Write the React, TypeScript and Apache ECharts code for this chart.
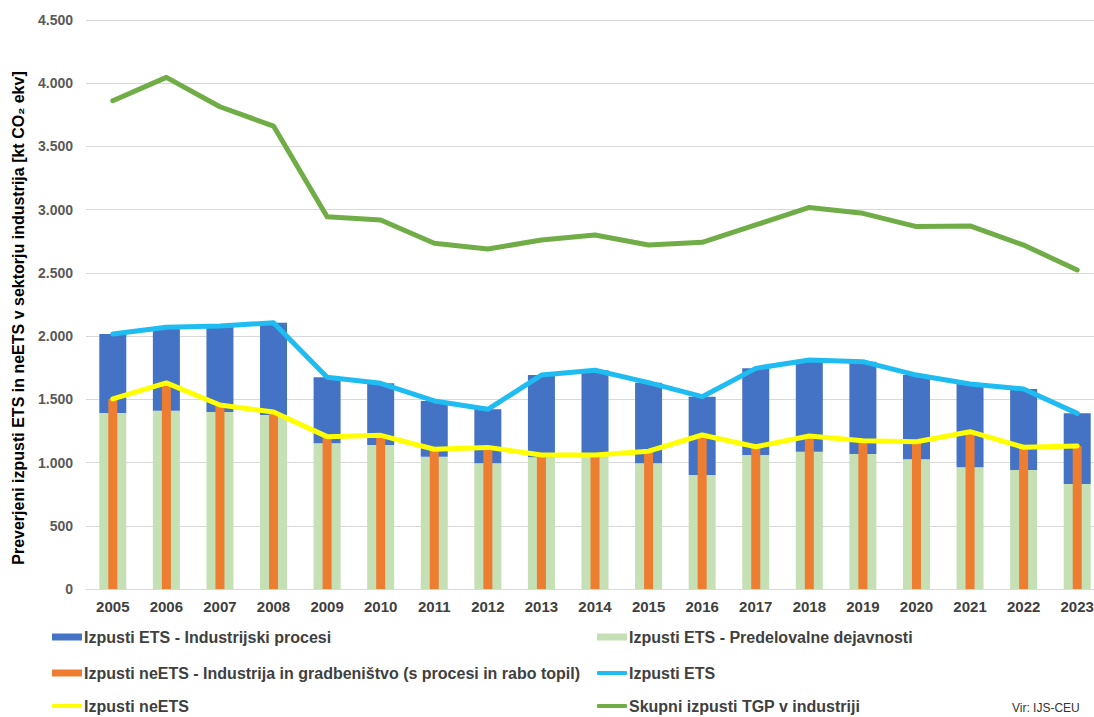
import React, { useEffect, useRef } from "react";
import * as echarts from "echarts";

// Years on the category axis
const years = [
  "2005", "2006", "2007", "2008", "2009", "2010", "2011", "2012", "2013", "2014",
  "2015", "2016", "2017", "2018", "2019", "2020", "2021", "2022", "2023",
];

// ETS – manufacturing industries (lower part of the stacked bar), kt CO2 eq
const etsPredelovalne = [
  1392, 1410, 1400, 1376, 1152, 1139, 1046, 994, 1041, 1060,
  994, 902, 1060, 1086, 1068, 1026, 962, 941, 830,
];

// ETS – industrial processes (upper part of the stacked bar)
const etsProcesi = [
  625, 660, 680, 730, 522, 488, 441, 427, 651, 670,
  638, 619, 685, 725, 730, 666, 659, 641, 559,
];

// Non-ETS – industry and construction (narrow bar)
const neEtsIndustrija = [
  1503, 1630, 1455, 1400, 1205, 1215, 1105, 1120, 1060, 1060,
  1090, 1218, 1125, 1210, 1173, 1165, 1244, 1121, 1131,
];

// ETS total line
const etsSkupaj = [
  2017, 2070, 2080, 2106, 1674, 1627, 1487, 1421, 1692, 1730,
  1632, 1521, 1745, 1811, 1798, 1692, 1621, 1582, 1389,
];

// Non-ETS line
const neEtsSkupaj = [
  1503, 1630, 1455, 1400, 1205, 1215, 1105, 1120, 1060, 1060,
  1090, 1218, 1125, 1210, 1173, 1165, 1244, 1121, 1131,
];

// Total GHG emissions in industry
const skupniTgp = [
  3862, 4046, 3814, 3661, 2944, 2918, 2734, 2689, 2760, 2800,
  2720, 2742, 2879, 3018, 2971, 2866, 2871, 2720, 2523,
];

const FONT = "'Liberation Sans', Arial, sans-serif";

const C_BLUE = "#4472C4";
const C_LGREEN = "#C5E0B4";
const C_ORANGE = "#ED7D31";
const C_CYAN = "#1FBCF2";
const C_YELLOW = "#FFFF00";
const C_GREEN = "#70AD47";

const Y_TITLE = "Preverjeni izpusti ETS in neETS v sektorju industrija [kt CO₂ ekv]";

const fmtThousands = (v: number) =>
  String(v).replace(/\B(?=(\d{3})+(?!\d))/g, ".");

function legendItem(name: string, left: number, top: number, isLine: boolean) {
  return {
    data: [name],
    left,
    top,
    orient: "horizontal",
    icon: isLine ? "roundRect" : "rect",
    itemWidth: 30,
    itemHeight: isLine ? 4 : 7,
    itemGap: 0,
    padding: 0,
    selectedMode: false,
    textStyle: {
      fontFamily: FONT,
      fontSize: 16,
      fontWeight: "bold",
      color: "#404040",
      padding: [0, 0, 0, -3],
    },
  };
}

export default function App() {
  const ref = useRef<HTMLDivElement>(null);

  useEffect(() => {
    if (!ref.current) return;
    const chart = echarts.init(ref.current, null, { renderer: "svg" });

    const nProcesi = "Izpusti ETS - Industrijski procesi";
    const nPredel = "Izpusti ETS - Predelovalne dejavnosti";
    const nNeEtsInd = "Izpusti neETS - Industrija in gradbeništvo (s procesi in rabo topil)";
    const nEts = "Izpusti ETS";
    const nNeEts = "Izpusti neETS";
    const nTgp = "Skupni izpusti TGP v industriji";

    chart.setOption({
      animation: false,
      backgroundColor: "#ffffff",
      textStyle: { fontFamily: FONT },
      // the plot runs slightly past the right edge of the visible frame
      grid: { left: 86, top: 20, right: 6, bottom: 128, containLabel: false },
      legend: [
        legendItem(nProcesi, 52, 629, false),
        legendItem(nPredel, 597, 629, false),
        legendItem(nNeEtsInd, 52, 665, false),
        legendItem(nEts, 597, 665, true),
        legendItem(nNeEts, 52, 698, true),
        legendItem(nTgp, 597, 698, true),
      ],
      xAxis: [
        {
          type: "category",
          data: years,
          axisLine: { show: true, lineStyle: { color: "#d9d9d9", width: 1 } },
          axisTick: { show: false },
          axisLabel: {
            fontFamily: FONT,
            fontSize: 15,
            fontWeight: "bold",
            color: "#404040",
            margin: 10,
            interval: 0,
          },
        },
        {
          type: "category",
          data: years,
          show: false,
        },
      ],
      yAxis: {
        type: "value",
        min: 0,
        max: 4500,
        interval: 500,
        axisLine: { show: false },
        axisTick: { show: false },
        splitLine: { lineStyle: { color: "#d9d9d9", width: 1 } },
        axisLabel: {
          fontFamily: FONT,
          fontSize: 14,
          fontWeight: "bold",
          color: "#595959",
          margin: 13,
          formatter: (v: number) => fmtThousands(v),
        },
      },
      series: [
        {
          name: nPredel,
          type: "bar",
          stack: "ets",
          xAxisIndex: 0,
          barWidth: 27,
          itemStyle: { color: C_LGREEN },
          data: etsPredelovalne,
        },
        {
          name: nProcesi,
          type: "bar",
          stack: "ets",
          xAxisIndex: 0,
          barWidth: 27,
          itemStyle: { color: C_BLUE },
          data: etsProcesi,
        },
        {
          name: nNeEtsInd,
          type: "bar",
          xAxisIndex: 1,
          barWidth: 9,
          itemStyle: { color: C_ORANGE },
          data: neEtsIndustrija,
        },
        {
          name: nEts,
          type: "line",
          xAxisIndex: 0,
          symbol: "none",
          lineStyle: { color: C_CYAN, width: 5, cap: "round", join: "round" },
          itemStyle: { color: C_CYAN },
          data: etsSkupaj,
          z: 5,
        },
        {
          name: nNeEts,
          type: "line",
          xAxisIndex: 0,
          symbol: "none",
          lineStyle: { color: C_YELLOW, width: 5, cap: "round", join: "round" },
          itemStyle: { color: C_YELLOW },
          data: neEtsSkupaj,
          z: 5,
        },
        {
          name: nTgp,
          type: "line",
          xAxisIndex: 0,
          symbol: "none",
          lineStyle: { color: C_GREEN, width: 5, cap: "round", join: "round" },
          itemStyle: { color: C_GREEN },
          data: skupniTgp,
          z: 5,
        },
      ],
      graphic: [
        {
          type: "text",
          x: 18,
          y: 318,
          rotation: Math.PI / 2,
          style: {
            text: Y_TITLE,
            fontFamily: FONT,
            fontSize: 16,
            fontWeight: "bold",
            fill: "#000000",
            align: "center",
            verticalAlign: "middle",
          },
        },
        {
          type: "text",
          left: 1012,
          top: 702,
          style: {
            text: "Vir: IJS-CEU",
            fontFamily: FONT,
            fontSize: 12,
            fill: "#333333",
          },
        },
      ],
    });

    return () => chart.dispose();
  }, []);

  return (
    <div
      style={{
        position: "fixed",
        left: 0,
        top: 0,
        width: 1094,
        height: 717,
        overflow: "hidden",
        background: "#ffffff",
      }}
    >
      <div ref={ref} style={{ width: 1110, height: 717 }} />
    </div>
  );
}
